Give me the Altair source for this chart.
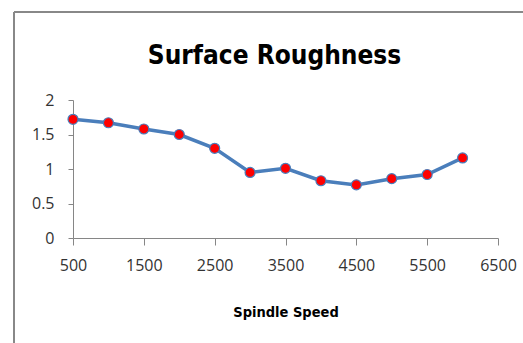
import altair as alt
import pandas as pd

speeds = [500, 1000, 1500, 2000, 2500, 3000, 3500, 4000, 4500, 5000, 5500, 6000]
roughness = [1.72, 1.67, 1.58, 1.50, 1.30, 0.95, 1.01, 0.83, 0.77, 0.86, 0.92, 1.16]
x_ticks = [500, 1500, 2500, 3500, 4500, 5500, 6500]
y_ticks = [0, 0.5, 1, 1.5, 2]

df = pd.DataFrame({"speed": speeds, "ra": roughness})

W, H = 425, 138
PL, PT = 73, 100
BOLD_FONT = "'DejaVu Sans Condensed', 'Open Sans', sans-serif"

x = alt.X("speed:Q", title="Spindle Speed",
          scale=alt.Scale(domain=[500, 6500], nice=False, zero=False),
          axis=alt.Axis(values=x_ticks, grid=False, tickSize=7, labelPadding=12,
                        format="d", labelFlush=False,
                        labelFont="Open Sans", labelFontSize=16, labelColor="#333333",
                        titleFont=BOLD_FONT, titleFontSize=14.5,
                        titleFontWeight="bold", titleColor="#000000", titlePadding=32,
                        domainColor="#868686", tickColor="#868686"))
y = alt.Y("ra:Q", title=None,
          scale=alt.Scale(domain=[0, 2], nice=False),
          axis=alt.Axis(values=y_ticks, grid=False, tickSize=5, labelPadding=14,
                        format="~g",
                        labelFont="Open Sans", labelFontSize=16, labelColor="#333333",
                        domainColor="#868686", tickColor="#868686"))

line = alt.Chart(df).mark_line(color="#4A7EBB", strokeWidth=3.5).encode(x=x, y=y)
pts = alt.Chart(df).mark_point(filled=True, fill="#FF0000", stroke="#4A7EBB",
                               strokeWidth=1.2, size=100, opacity=1,
                               shape="circle").encode(x=x, y=y)

frame_left = alt.Chart(df).mark_rule(color="#888888", strokeWidth=2).encode(
    x=alt.value(14 - PL), y=alt.value(12 - PT), y2=alt.value(343 - PT))
frame_top = alt.Chart(df).mark_rule(color="#888888", strokeWidth=2).encode(
    x=alt.value(14 - PL), x2=alt.value(523 - PL), y=alt.value(12 - PT))

chart = alt.layer(frame_left, frame_top, line, pts).properties(
    width=W, height=H,
    title=alt.TitleParams("Surface Roughness", font=BOLD_FONT,
                          fontSize=26, fontWeight="bold", color="#000000",
                          anchor="middle", dx=-11, offset=-58),
    autosize=alt.AutoSizeParams(type="none"),
    padding={"left": PL, "top": PT, "right": 523 - PL - W, "bottom": 343 - PT - H},
).configure(background="white", view=alt.ViewConfig(stroke=None))

chart.save("out.html", embed_options={"renderer": "svg", "actions": False})
